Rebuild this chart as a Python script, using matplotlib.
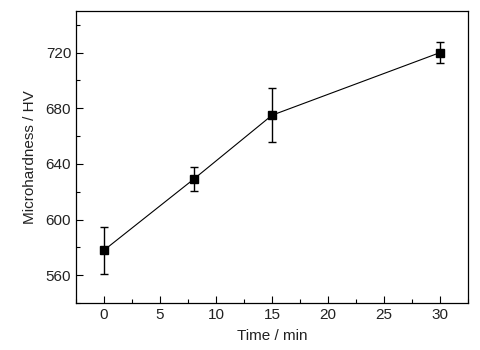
import matplotlib
matplotlib.use("Agg")
import matplotlib.pyplot as plt
from matplotlib.ticker import MultipleLocator

# microhardness vs treatment time
time_min = [0, 8, 15, 30]
hardness = [578, 629, 675, 720]
hardness_err = [17, 8.7, 19.5, 7.7]

plt.rcParams['font.family'] = ['Liberation Sans', 'DejaVu Sans']

fig = plt.figure(figsize=(4.81, 3.5), dpi=100)
ax = fig.add_axes([0.158, 0.134, 0.815, 0.835])

ax.errorbar(time_min, hardness, yerr=hardness_err, color='black',
            linewidth=0.8, marker='s', markersize=5.5, elinewidth=1.0,
            capsize=3.2, capthick=1.0)

ax.set_xlim(-2.5, 32.5)
ax.set_ylim(540, 750)
ax.xaxis.set_major_locator(MultipleLocator(5))
ax.xaxis.set_minor_locator(MultipleLocator(2.5))
ax.yaxis.set_major_locator(MultipleLocator(40))
ax.yaxis.set_minor_locator(MultipleLocator(20))
ax.set_yticks(range(560, 721, 40))

ax.tick_params(which='both', direction='in', top=False, right=False,
               labelsize=11, width=0.8, labelcolor='#222222')
ax.tick_params(which='major', length=5)
ax.tick_params(which='minor', length=3)
for s in ax.spines.values():
    s.set_linewidth(0.9)

ax.set_xlabel("Time / min", fontsize=11, labelpad=5, color='#222222')
ax.set_ylabel("Microhardness / HV", fontsize=11, labelpad=6, color='#222222')

fig.savefig("out.png", dpi=100)
